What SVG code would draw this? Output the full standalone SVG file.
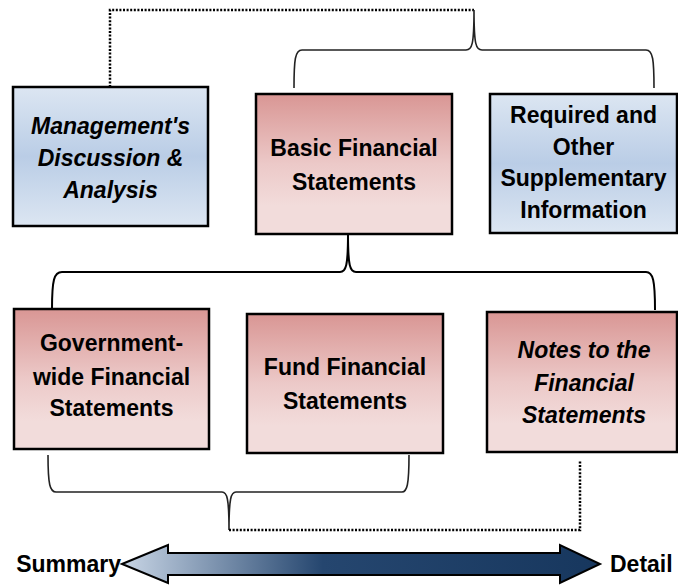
<svg xmlns="http://www.w3.org/2000/svg" width="678" height="585" viewBox="0 0 678 585">
<defs>
<linearGradient id="pink" x1="0" y1="0" x2="0" y2="1">
<stop offset="0" stop-color="#d99694"/>
<stop offset="0.5" stop-color="#ecc9c8"/>
<stop offset="0.8" stop-color="#f2dcdb"/>
<stop offset="1" stop-color="#f2dcdb"/>
</linearGradient>
<linearGradient id="blue" x1="0" y1="0" x2="0" y2="1">
<stop offset="0" stop-color="#dce6f2"/>
<stop offset="0.5" stop-color="#bacde6"/>
<stop offset="1" stop-color="#dce6f2"/>
</linearGradient>
<linearGradient id="arr" x1="0" y1="0" x2="1" y2="0">
<stop offset="0" stop-color="#c9d6e6"/>
<stop offset="0.42" stop-color="#25466f"/>
<stop offset="1" stop-color="#17375e"/>
</linearGradient>
</defs>
<style>
.box{stroke:#000;stroke-width:2.5}
.p{fill:url(#pink)}
.b{fill:url(#blue)}
.t{font-family:"Liberation Sans",Arial,sans-serif;font-weight:bold;font-size:23px;fill:#000;text-anchor:middle}
.i{font-style:italic}
.brace{fill:none;stroke:#222;stroke-width:1.6}
.dot{fill:none;stroke:#000;stroke-width:2.5;stroke-dasharray:2 1.6}
.lbl{font-family:"Liberation Sans",Arial,sans-serif;font-weight:bold;font-size:23px;fill:#000}
</style>
<g id="connectors">
<path class="dot" d="M110,87 L110,10 L474,10"/>
<path class="brace" d="M294,88 C294,60 295,50 302,50 L466,50 C472,50 474,45 474,10 C474,45 476,50 482,50 L646,50 C653,50 654,60 654,88"/>
<path class="brace" style="stroke:#000;stroke-width:2" d="M52,309 C52,280 54,272 62,272 L340,272 C346,272 348,266 348,234 C348,266 350,272 356,272 L646,272 C653,272 655,280 655,310"/>
<path class="brace" d="M48,455 C48,485 50,492 56,492 L222,492 C227,492 229,498 229,530 C229,498 231,492 236,492 L402,492 C407,492 409,485 409,455"/>
<path class="dot" d="M229,530 L580,530 L580,460"/>
</g>
<g id="mda">
<rect class="box b" x="13" y="87" width="195" height="139"/>
<text class="t i" x="110.5" y="134">Management's</text>
<text class="t i" x="110.5" y="166">Discussion &amp;</text>
<text class="t i" x="110.5" y="198">Analysis</text>
</g>
<g id="basic">
<rect class="box p" x="256" y="94" width="196" height="140"/>
<text class="t" x="354" y="156">Basic Financial</text>
<text class="t" x="354" y="190">Statements</text>
</g>
<g id="required">
<rect class="box b" x="490" y="94" width="187" height="139"/>
<text class="t" x="583.5" y="123">Required and</text>
<text class="t" x="583.5" y="155">Other</text>
<text class="t" x="583.5" y="186">Supplementary</text>
<text class="t" x="583.5" y="218">Information</text>
</g>
<g id="govwide">
<rect class="box p" x="14" y="309" width="195" height="140"/>
<text class="t" x="111.5" y="351">Government-</text>
<text class="t" x="111.5" y="385">wide Financial</text>
<text class="t" x="111.5" y="416">Statements</text>
</g>
<g id="fund">
<rect class="box p" x="247" y="314" width="196" height="139"/>
<text class="t" x="345" y="375">Fund Financial</text>
<text class="t" x="345" y="409">Statements</text>
</g>
<g id="notes">
<rect class="box p" x="487" y="312" width="190" height="140"/>
<text class="t i" x="584" y="358">Notes to the</text>
<text class="t i" x="584" y="391">Financial</text>
<text class="t i" x="584" y="423">Statements</text>
</g>
<g id="scale">
<polygon points="122,564 168,545 168,553 560,553 560,545 600,564 560,583 560,575 168,575 168,583" fill="url(#arr)" stroke="#000" stroke-width="2" stroke-linejoin="miter"/>
<text class="lbl" x="121" y="572" text-anchor="end">Summary</text>
<text class="lbl" x="610" y="572">Detail</text>
</g>
</svg>
